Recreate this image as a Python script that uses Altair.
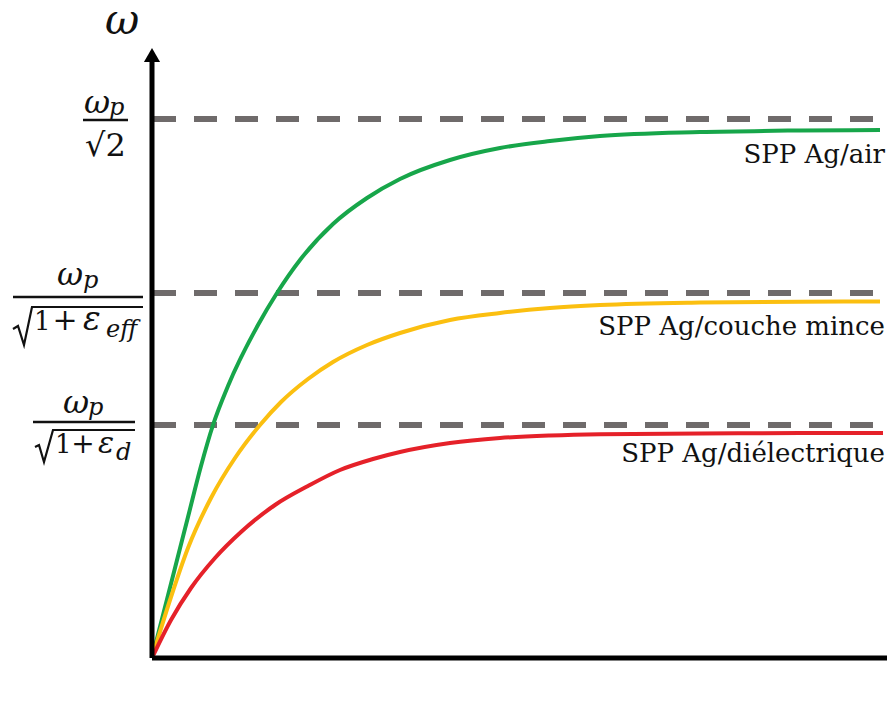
import altair as alt
import pandas as pd

# ---- data (k: wavevector, w: frequency, arbitrary units) ----
k_air = [0, 11, 23, 36, 49, 61, 76, 106, 125, 148, 181, 215, 248, 298, 348, 398, 448, 548, 648, 728]
w_air = [0, 43, 90, 141, 192, 233, 272, 333, 365, 398, 434, 460, 479, 498, 510, 517, 522, 526, 527.5, 528]
k_film = [0, 19, 36, 59, 83, 108, 129, 156, 181, 215, 248, 298, 348, 398, 448, 548, 648, 728]
w_film = [0, 61, 110, 160, 200, 233, 256, 279, 296, 313, 325, 338, 345, 350, 353, 355.5, 356.3, 356.5]
k_diel = [0, 19, 39, 63, 89, 123, 156, 188, 221, 248, 298, 348, 398, 448, 548, 648, 731]
w_diel = [0, 38, 70, 100, 126, 153, 172, 188, 199, 206, 215, 220, 222.5, 223.8, 224.6, 224.9, 225]

series_names = ["SPP Ag/air", "SPP Ag/couche mince", "SPP Ag/diélectrique"]
series_colors = ["#17a64a", "#fbbf10", "#e52129"]
label_y = [495, 323, 196]

asymptotes = [539, 365, 233]   # ωp/√2, ωp/√(1+εeff), ωp/√(1+εd)

X_MAX = 735
Y_MAX = 618


def X(field):
    return alt.X(field, scale=alt.Scale(domain=[0, X_MAX], nice=False, zero=False), axis=None)


def Y(field):
    return alt.Y(field, scale=alt.Scale(domain=[0, Y_MAX], nice=False, zero=False), axis=None)


rows = []
for name, ks, ws in zip(series_names, [k_air, k_film, k_diel], [w_air, w_film, w_diel]):
    for i, (k, w) in enumerate(zip(ks, ws)):
        rows.append({"serie": name, "k": k, "w": w, "i": i})
curves_df = pd.DataFrame(rows)

curves = alt.Chart(curves_df).mark_line(strokeWidth=4, interpolate="monotone").encode(
    x=X("k:Q"),
    y=Y("w:Q"),
    color=alt.Color("serie:N", scale=alt.Scale(domain=series_names, range=series_colors), legend=None),
    order="i:Q",
)

dash_df = pd.DataFrame({"y": asymptotes, "x0": [1] * 3, "x1": [725] * 3})
dashes = alt.Chart(dash_df).mark_rule(color="#6f6b6b", strokeWidth=6, strokeDash=[23, 18]).encode(
    x=X("x0:Q"), x2="x1:Q", y=Y("y:Q")
)

# axes
axis_df = pd.DataFrame({"x0": [0, 0], "x1": [0, X_MAX], "y0": [0, 0], "y1": [598, 0]})
axes = alt.Chart(axis_df).mark_rule(color="black", strokeWidth=5).encode(
    x=X("x0:Q"), x2="x1:Q", y=Y("y0:Q"), y2="y1:Q"
)
arrow = alt.Chart(pd.DataFrame({"x": [0], "y": [603]})).mark_point(
    shape="triangle-up", filled=True, color="black", opacity=1, size=260
).encode(x=X("x:Q"), y=Y("y:Q"))

# series labels
lab_df = pd.DataFrame({"t": series_names, "y": label_y, "x": [733] * 3})
labels = alt.Chart(lab_df).mark_text(
    font="DejaVu Serif", fontSize=26, align="right", baseline="alphabetic", color="#111111"
).encode(x=X("x:Q"), y=Y("y:Q"), text="t:N")

# fraction labels on the y axis
ital_left_df = pd.DataFrame([
    {"x": -68, "y": 545, "t": "ω", "s": 32},
    {"x": -43, "y": 543, "t": "p", "s": 24},
    {"x": -95, "y": 373, "t": "ω", "s": 32},
    {"x": -69, "y": 370, "t": "p", "s": 24},
    {"x": -69, "y": 328, "t": "ε", "s": 33},
    {"x": -46, "y": 321, "t": "eff", "s": 24},
    {"x": -89, "y": 245, "t": "ω", "s": 32},
    {"x": -64, "y": 243, "t": "p", "s": 24},
    {"x": -54, "y": 205, "t": "ε", "s": 30},
    {"x": -36, "y": 198, "t": "d", "s": 24},
])
ital_center_df = pd.DataFrame([{"x": -30, "y": 624, "t": "ω", "s": 42}])
upr_df = pd.DataFrame([
    {"x": -67, "y": 502, "t": "√2", "s": 32},
    {"x": -118, "y": 328, "t": "1", "s": 26},
    {"x": -97, "y": 205, "t": "1", "s": 26},
])
plus_df = pd.DataFrame([
    {"x": -87, "y": 328, "t": "+", "s": 30},
    {"x": -69, "y": 205, "t": "+", "s": 28},
])


def txt(df, style, align):
    return alt.Chart(df).mark_text(
        font="DejaVu Serif", fontStyle=style, align=align, baseline="alphabetic", color="#111111"
    ).encode(
        x=X("x:Q"), y=Y("y:Q"), text="t:N",
        size=alt.Size("s:Q", scale=None, legend=None),
    )


ital_left = txt(ital_left_df, "italic", "left")
ital_center = txt(ital_center_df, "italic", "center")
upr_t = txt(upr_df, "normal", "left")
plus_t = txt(plus_df, "normal", "center")

bars_df = pd.DataFrame({"x0": [-69, -139, -119], "x1": [-24, -9, -17], "y": [538, 361, 236]})
bars = alt.Chart(bars_df).mark_rule(color="#111111", strokeWidth=2.5).encode(
    x=X("x0:Q"), x2="x1:Q", y=Y("y:Q")
)

rad_rows = []
for g, pts in enumerate([
    [(-139, 329), (-134, 332), (-128, 313), (-120, 351), (-9, 351)],
    [(-117, 211), (-113, 213), (-108, 196), (-99, 228), (-17, 228)],
]):
    for i, (x, y) in enumerate(pts):
        rad_rows.append({"g": g, "i": i, "x": x, "y": y})
rads = alt.Chart(pd.DataFrame(rad_rows)).mark_line(color="#111111", strokeWidth=2.2).encode(
    x=X("x:Q"), y=Y("y:Q"), detail="g:N", order="i:Q"
)

chart = alt.layer(
    dashes, curves, axes, arrow, labels, ital_left, ital_center, upr_t, plus_t, bars, rads
).properties(
    width=X_MAX, height=Y_MAX,
    autosize=alt.AutoSizeParams(type="none"),
    padding={"left": 144, "top": 32, "right": 0, "bottom": 30},
).configure_view(stroke=None)

chart.save("out.html", embed_options={"renderer": "svg", "actions": False})
